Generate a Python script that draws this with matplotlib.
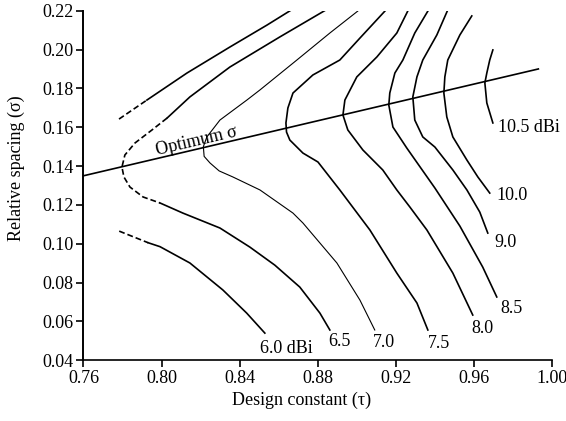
import numpy as np
import matplotlib.pyplot as plt

plt.rcParams['font.family'] = ['Liberation Serif', 'DejaVu Serif']

# gain contours (tau, sigma)
g60_up_dash_x = [0.7782, 0.7925]
g60_up_dash_y = [0.1642, 0.1740]
g60_up_x = [0.7925, 0.8130, 0.8350, 0.8540, 0.8673]
g60_up_y = [0.1740, 0.1879, 0.2013, 0.2126, 0.2209]
g60_lo_dash_x = [0.7783, 0.7932]
g60_lo_dash_y = [0.1065, 0.1005]
g60_lo_x = [0.7932, 0.7992, 0.8145, 0.8314, 0.8436, 0.8529]
g60_lo_y = [0.1005, 0.0985, 0.0901, 0.0762, 0.0643, 0.0540]

g65_up_x = [0.8842, 0.8606, 0.8350, 0.8145, 0.8028]
g65_up_y = [0.2204, 0.2065, 0.1910, 0.1756, 0.1647]
g65_dash_x = [0.8028, 0.7951, 0.7864, 0.7812, 0.7797, 0.7807, 0.7838, 0.7905, 0.7992]
g65_dash_y = [0.1647, 0.1586, 0.1519, 0.1457, 0.1395, 0.1344, 0.1292, 0.1241, 0.1210]
g65_lo_x = [0.7992, 0.8109, 0.8299, 0.8452, 0.8580, 0.8708, 0.8811, 0.8862]
g65_lo_y = [0.1210, 0.1158, 0.1081, 0.0983, 0.0890, 0.0777, 0.0643, 0.0556]

g70_x = [0.9005, 0.8862, 0.8693, 0.8504, 0.8437, 0.8299, 0.8232, 0.8214, 0.8218,
         0.8248, 0.8295, 0.8365, 0.8504, 0.8673, 0.8724, 0.8898, 0.9016, 0.9092]
g70_y = [0.2198, 0.2085, 0.1946, 0.1792, 0.1740, 0.1637, 0.1550, 0.1500, 0.1450,
         0.1416, 0.1375, 0.1344, 0.1277, 0.1158, 0.1107, 0.0901, 0.0710, 0.0556]

g75_x = [0.9144, 0.9016, 0.8913, 0.8775, 0.8673, 0.8647, 0.8637, 0.8640, 0.8657,
         0.8724, 0.8801, 0.8913, 0.9067, 0.9205, 0.9308, 0.9364]
g75_y = [0.2198, 0.2059, 0.1946, 0.1869, 0.1776, 0.1699, 0.1622, 0.1575, 0.1534,
         0.1467, 0.1421, 0.1277, 0.1071, 0.0849, 0.0695, 0.0556]

g80_x = [0.9261, 0.9205, 0.9103, 0.9000, 0.8939, 0.8929, 0.8954, 0.9031, 0.9133,
         0.9205, 0.9272, 0.9359, 0.9492, 0.9594]
g80_y = [0.2198, 0.2085, 0.1962, 0.1859, 0.1740, 0.1663, 0.1586, 0.1483, 0.1380,
         0.1277, 0.1189, 0.1071, 0.0849, 0.0633]

g85_x = [0.9364, 0.9297, 0.9236, 0.9195, 0.9169, 0.9164, 0.9185, 0.9256, 0.9400,
         0.9528, 0.9645, 0.9717]
g85_y = [0.2198, 0.2085, 0.1946, 0.1879, 0.1776, 0.1714, 0.1601, 0.1493, 0.1287,
         0.1091, 0.0880, 0.0726]

g90_x = [0.9466, 0.9410, 0.9338, 0.9308, 0.9287, 0.9297, 0.9338, 0.9400, 0.9492,
         0.9564, 0.9630, 0.9671]
g90_y = [0.2204, 0.2075, 0.1946, 0.1859, 0.1756, 0.1637, 0.1550, 0.1498, 0.1380,
         0.1277, 0.1163, 0.1055]

g100_x = [0.9589, 0.9528, 0.9466, 0.9451, 0.9446, 0.9461, 0.9492, 0.9564, 0.9620, 0.9681]
g100_y = [0.2173, 0.2075, 0.1946, 0.1859, 0.1776, 0.1653, 0.1550, 0.1431, 0.1344, 0.1261]

g105_x = [0.9697, 0.9681, 0.9666, 0.9656, 0.9666, 0.9697]
g105_y = [0.1998, 0.1946, 0.1879, 0.1828, 0.1725, 0.1622]

# optimum sigma line
opt_x = [0.760, 0.993]
opt_y = [0.135, 0.190]

gain_labels = ['6.0 dBi', '6.5', '7.0', '7.5', '8.0', '8.5', '9.0', '10.0', '10.5 dBi']
label_x = [0.8504, 0.8852, 0.9082, 0.9364, 0.9585, 0.9733, 0.9707, 0.9717, 0.9722]
label_y = [0.0463, 0.0499, 0.0494, 0.0489, 0.0566, 0.0669, 0.1004, 0.1246, 0.1601]

xticks = [0.76, 0.80, 0.84, 0.88, 0.92, 0.96, 1.00]
yticks = [0.04, 0.06, 0.08, 0.10, 0.12, 0.14, 0.16, 0.18, 0.20, 0.22]

fig = plt.figure(figsize=(5.66, 4.21), dpi=100)
ax = fig.add_axes([0.1475, 0.1442, 0.8278, 0.8304])

lw = 1.2
dash = (0, (3.5, 1.8))
kw = dict(color='k', solid_joinstyle='round', dash_joinstyle='round')
ax.plot(g60_up_dash_x, g60_up_dash_y, lw=lw, linestyle=dash, **kw)
ax.plot(g60_up_x, g60_up_y, lw=lw, **kw)
ax.plot(g60_lo_dash_x, g60_lo_dash_y, lw=lw, linestyle=dash, **kw)
ax.plot(g60_lo_x, g60_lo_y, lw=lw, **kw)
ax.plot(g65_up_x, g65_up_y, lw=lw, **kw)
ax.plot(g65_dash_x, g65_dash_y, lw=lw, linestyle=dash, **kw)
ax.plot(g65_lo_x, g65_lo_y, lw=lw, **kw)
ax.plot(g70_x, g70_y, lw=0.8, **kw)
for cx, cy in [(g75_x, g75_y), (g80_x, g80_y), (g85_x, g85_y),
               (g90_x, g90_y), (g100_x, g100_y), (g105_x, g105_y)]:
    ax.plot(cx, cy, lw=lw, **kw)

ax.plot(opt_x, opt_y, color='k', lw=lw)
ax.text(0.8181, 0.1529, 'Optimum σ', fontsize=13, rotation=13.2,
        ha='center', va='center', rotation_mode='anchor')

for txt, lx, ly in zip(gain_labels, label_x, label_y):
    ax.text(lx, ly, txt, fontsize=13, ha='left', va='center')

ax.set_xlim(0.76, 1.00)
ax.set_ylim(0.04, 0.22)
ax.set_xticks(xticks, [f'{t:.2f}' for t in xticks])
ax.set_yticks(yticks, [f'{t:.2f}' for t in yticks])
ax.tick_params(labelsize=13, length=5, width=1.2, direction='out', pad=2)
ax.spines['top'].set_visible(False)
ax.spines['right'].set_visible(False)
ax.spines['left'].set_linewidth(1.4)
ax.spines['bottom'].set_linewidth(1.2)

ax.set_xlabel('Design constant (τ)', fontsize=13)
ax.set_ylabel('Relative spacing (σ)', fontsize=13)
ax.xaxis.set_label_coords(0.465, -0.09)
ax.yaxis.set_label_coords(-0.125, 0.549)

plt.savefig('out.png', dpi=100)
